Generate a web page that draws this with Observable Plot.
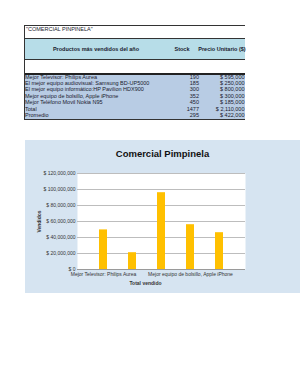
<!DOCTYPE html>
<html><head><meta charset="utf-8">
<script src="https://cdn.jsdelivr.net/npm/d3@7"></script>
<script src="https://cdn.jsdelivr.net/npm/@observablehq/plot@0.6"></script>
<style>
body{margin:0;background:#fff;width:300px;height:388px;position:relative;overflow:hidden;font-family:"Liberation Sans Narrow","Arial Narrow","Liberation Sans",sans-serif;color:#1a1a2e;}
.abs{position:absolute;white-space:nowrap;}
.line{position:absolute;left:24px;width:221px;background:#333;}
</style></head><body>
<div id="root"></div>
<script>
const tableTitle = '"COMERCIAL PINPINELA"';
const headers = ["Productos más vendidos del año", "Stock", "Precio Unitario ($)"];
const products = [
  "Mejor Televisor: Philips Aurea",
  "El mejor equipo audiovisual: Samsung BD-UP5000",
  "El mejor equipo informático:HP Pavilion HDX900",
  "Mejor equipo de bolsillo, Apple iPhone",
  "Mejor Teléfono Movil Nokia N95",
  "Total",
  "Promedio"
];
const stock = [190, 185, 300, 352, 450, 1477, 295];
const prices = [595000, 250000, 800000, 300000, 185000, 2110000, 422000];

const chartTitle = "Comercial Pimpinela";
const categories = products.slice(0, 5);
const sales = [49500000, 21000000, 96000000, 56000000, 46000000];
const yTicks = [0, 20000000, 40000000, 60000000, 80000000, 100000000, 120000000];
const shownXLabels = ["Mejor Televisor: Philips Aurea", "Mejor equipo de bolsillo, Apple iPhone"];
const yTitle = "Vendidos";
const xTitle = "Total vendido";

const root = document.getElementById("root");
function el(cls, style, text) {
  const d = document.createElement("div");
  d.className = cls;
  Object.assign(d.style, style);
  if (text != null) d.textContent = text;
  root.appendChild(d);
  return d;
}
const fmt = d3.format(",");

// ---- table ----
el("abs", {left:"24px", top:"39px", width:"221px", height:"20px", background:"#b7dde8"});
el("abs", {left:"24px", top:"74px", width:"221px", height:"45px", background:"#b8cce4"});
el("line", {top:"25px", height:"1px"});
el("line", {top:"38px", height:"1px"});
el("line", {top:"59px", height:"1px"});
el("line", {top:"73px", height:"1.5px", background:"#222"});
el("line", {top:"119px", height:"1px"});
el("abs", {left:"24px", top:"25px", width:"1px", height:"95px", background:"#333"});
el("abs", {left:"26px", top:"25.5px", fontSize:"5.5px", lineHeight:"6px"}, tableTitle);
el("abs", {left:"96px", top:"46px", fontSize:"5.5px", fontWeight:"bold", lineHeight:"6px", transform:"translateX(-50%)"}, headers[0]);
el("abs", {left:"182px", top:"46px", fontSize:"5.5px", fontWeight:"bold", lineHeight:"6px", transform:"translateX(-50%)"}, headers[1]);
el("abs", {left:"222px", top:"46px", fontSize:"5.5px", fontWeight:"bold", lineHeight:"6px", transform:"translateX(-50%)"}, headers[2]);
products.forEach((p, i) => {
  const top = 73.5 + i * 6.45;
  el("abs", {left:"25px", top: top + "px", fontSize:"5.5px", lineHeight:"6.4px"}, p);
  el("abs", {right: (300 - 199) + "px", top: top + "px", fontSize:"5.5px", lineHeight:"6.4px"}, String(stock[i]));
  el("abs", {right: (300 - 244.5) + "px", top: top + "px", fontSize:"5.5px", lineHeight:"6.4px"}, "$ " + fmt(prices[i]));
});

// ---- chart panel ----
const chart = Plot.plot({
  width: 275,
  height: 153,
  marginLeft: 52,
  marginRight: 55,
  marginTop: 33,
  marginBottom: 24,
  style: {background: "#d6e4f1", fontSize: "5px", fontFamily: "'Liberation Sans Narrow','Liberation Sans',sans-serif", color: "#333", overflow: "visible"},
  x: {domain: categories, padding: 0.72, label: null, tickSize: 0, tickPadding: 3,
      tickFormat: d => shownXLabels.includes(d) ? d : ""},
  y: {domain: [0, 120000000], ticks: yTicks, tickSize: 0, tickPadding: 2,
      tickFormat: d => "$ " + fmt(d), label: yTitle, labelAnchor: "center", labelArrow: "none", labelOffset: 40},
  marks: [
    Plot.frame({fill: "white", stroke: "none"}),
    Plot.gridY(yTicks, {stroke: "#bdbdbd", strokeOpacity: 1}),
    Plot.barY(categories, {x: d => d, y: (d, i) => sales[i], fill: "#ffc000"}),
    Plot.ruleY([0], {stroke: "#9a9a9a"})
  ]
});
chart.style.position = "absolute";
chart.style.left = "25px";
chart.style.top = "140px";
root.appendChild(chart);
chart.querySelectorAll('[aria-label="y-axis label"] text').forEach(t => { t.setAttribute("font-weight", "bold"); t.setAttribute("font-size", "5px"); });

el("abs", {left:"162.5px", top:"148px", fontSize:"9.5px", fontWeight:"bold", lineHeight:"11px", transform:"translateX(-50%)", color:"#111"}, chartTitle);
el("abs", {left:"145.5px", top:"280px", fontSize:"5px", fontWeight:"bold", lineHeight:"6px", transform:"translateX(-50%)", color:"#333"}, xTitle);
</script>
</body></html>
